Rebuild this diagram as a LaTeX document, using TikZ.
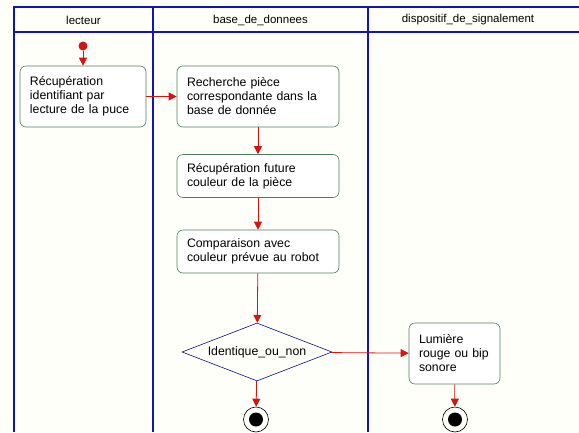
\documentclass[tikz,border=0pt]{standalone}
\usepackage{fontspec}
\setmainfont{Liberation Sans}
\usetikzlibrary{
    arrows.meta,
    shapes.geometric,
}
\definecolor{lanecolor}{RGB}{20,20,180}
\definecolor{actcolor}{RGB}{80,125,95}
\definecolor{flowcolor}{RGB}{210,20,20}
\definecolor{paper}{RGB}{255,255,250}

\begin{document}
\begin{tikzpicture}
  [x=1pt,y=-1pt,
   lane/.style={draw=lanecolor,line width=1.8pt},
   lanetitle/.style={font=\fontsize{11.5}{14}\selectfont},
   activity/.style={draw=actcolor,line width=0.6pt,rounded corners=6pt,fill=white,
     align=left,inner xsep=10pt,inner ysep=0pt,anchor=center,
     font=\fontsize{12.3}{14}\selectfont},
   decision/.style={diamond,aspect=2.6,draw=lanecolor!70!black,line width=0.6pt,
     inner sep=0pt,minimum width=150pt,minimum height=58pt,
     font=\fontsize{12.3}{14}\selectfont},
   flow/.style={draw=flowcolor,line width=0.8pt,
     -{Triangle[length=8pt,width=8pt]},color=flowcolor},
   startdot/.style={circle,fill=flowcolor,inner sep=0pt,minimum size=9pt},
   enddot/.style={circle,draw=black,line width=0.6pt,inner sep=0pt,minimum size=25pt,
     path picture={\fill[black] (path picture bounding box.center) circle (7pt);}}]

  % frame and lanes
  \useasboundingbox[fill=paper] (0,0) rectangle (579,432);
  \draw[lane] (579,7) -- (14,7) -- (14,432);
  \draw[lane] (14,32) -- (579,32);
  \draw[lane] (153,7) -- (153,432);
  \draw[lane] (368,7) -- (368,432);
  \node[lanetitle] (lecteur) at (83.5,20) {lecteur};
  \node[lanetitle] (base)    at (260.5,20) {base\_de\_donnees};
  \node[lanetitle] (signal)  at (468,20) {dispositif\_de\_signalement};

  % activities
  \node[startdot] (start) at (83,46) {};
  \node[activity,minimum width=126pt,minimum height=61pt,text width=106pt]
    (lecture) at (83,96.5) {Récupération\\identifiant par\\lecture de la puce};
  \node[activity,minimum width=162pt,minimum height=61pt,text width=142pt]
    (recherche) at (258,96.5) {Recherche pièce\\correspondante dans la\\base de donnée};
  \node[activity,minimum width=162pt,minimum height=43pt,text width=142pt]
    (couleur) at (258,176) {Récupération future\\couleur de la pièce};
  \node[activity,minimum width=162pt,minimum height=43pt,text width=142pt]
    (comparaison) at (258,251.5) {Comparaison avec\\couleur prévue au robot};
  \node[decision] (identique) at (257,352) {Identique\_ou\_non};
  \node[activity,minimum width=91pt,minimum height=61pt,text width=71pt]
    (lumiere) at (454.5,353.5) {Lumière\\rouge ou bip\\sonore};
  \node[enddot] (fin1) at (256,419.5) {};
  \node[enddot] (fin2) at (455,419.5) {};

  % transitions
  \draw[flow] (start) -- (lecture);
  \draw[flow] (lecture) -- (recherche);
  \draw[flow] (recherche) -- (couleur);
  \draw[flow] (couleur) -- (comparaison);
  \draw[flow] (comparaison) -- (identique);
  \draw[flow] (identique) -- (lumiere);
  \draw[flow] (identique) -- (fin1);
  \draw[flow] (lumiere) -- (fin2);
\end{tikzpicture}
\end{document}
